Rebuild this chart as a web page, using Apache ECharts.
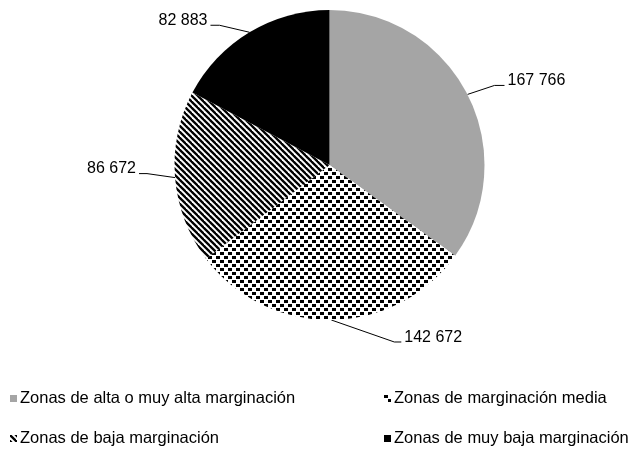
<!DOCTYPE html>
<html>
<head>
<meta charset="utf-8">
<script src="https://cdn.jsdelivr.net/npm/echarts@6/dist/echarts.min.js"></script>
<style>
  html, body { margin: 0; padding: 0; background: #fff; }
  #main { width: 631px; height: 450px; }
</style>
</head>
<body>
<div id="main"></div>
<script>
// datos del grafico
var zoneNames = [
    'Zonas de alta o muy alta marginación',
    'Zonas de marginación media',
    'Zonas de baja marginación',
    'Zonas de muy baja marginación'
];
var zoneValues = [167766, 142672, 86672, 82883];

// doblez de cada linea de etiqueta: [dx, dy, tramo horizontal, ajuste y del texto]
var labelBends = [
    [27, -9, 10, -5],
    [63, 22, 7, -4],
    [-28, -4, -8, -5],
    [-30, -7, -9, -5]
];

// posicion de cada leyenda
var legendPos = [
    {left: 10, top: 390},
    {left: 384, top: 390},
    {left: 10, top: 430},
    {left: 384, top: 430}
];

var _font = '"Liberation Sans", Arial, sans-serif';

//trama de puntos
function dotPattern(){
    var c = document.createElement('canvas');
    c.width = 8; c.height = 8;
    var g = c.getContext('2d');
    g.fillStyle = '#fff';
    g.fillRect(0, 0, 8, 8);
    g.fillStyle = '#000';
    g.fillRect(0, 0, 4, 3);
    g.fillRect(4, 4, 4, 3);
    return c;
}

//trama de rayas diagonales
function stripePattern(){
    var c = document.createElement('canvas');
    c.width = 6; c.height = 6;
    var g = c.getContext('2d');
    g.fillStyle = '#fff';
    g.fillRect(0, 0, 6, 6);
    g.strokeStyle = '#000';
    g.lineWidth = 2.3;
    for(var k = -1; k <= 1; k++){
        g.beginPath();
        g.moveTo(k*6 - 2, -2);
        g.lineTo(k*6 + 8, 8);
        g.stroke();
    }
    return c;
}

var sliceColors = [
    '#a5a5a5',
    {image: dotPattern(), repeat: 'repeat'},
    {image: stripePattern(), repeat: 'repeat'},
    '#000000'
];

function fmtNum(v){
    return String(v).replace(/\B(?=(\d{3})+(?!\d))/g, ' ');
}

var pieData = [];
for(var i = 0; i < zoneNames.length; i++){
    pieData.push({
        name: zoneNames[i],
        value: zoneValues[i],
        itemStyle: {color: sliceColors[i]}
    });
}

var legendArr = [];
for(var j = 0; j < zoneNames.length; j++){
    legendArr.push({
        data: [zoneNames[j]],
        left: legendPos[j].left,
        top: legendPos[j].top,
        orient: 'horizontal',
        icon: 'rect',
        itemWidth: 7,
        itemHeight: 7,
        selectedMode: false,
        padding: 0,
        textStyle: {
            color: '#000',
            fontFamily: _font,
            fontSize: 16.5,
            padding: [0, 0, 0, -2]
        }
    });
}

var myChart = echarts.init(document.getElementById('main'), null, {renderer: 'canvas'});

var option = {
    animation: false,
    backgroundColor: '#fff',
    legend: legendArr,
    series: [
        {
            type: 'pie',
            center: [329.5, 165],
            radius: 155,
            startAngle: 90,
            clockwise: true,
            avoidLabelOverlap: false,
            data: pieData,
            itemStyle: {borderWidth: 0},
            emphasis: {scale: false},
            label: {
                show: true,
                position: 'outside',
                color: '#000',
                fontFamily: _font,
                fontSize: 16,
                formatter: function(p){ return fmtNum(p.value); }
            },
            labelLine: {
                show: true,
                length: 25,
                length2: 10,
                lineStyle: {color: '#000', width: 1}
            },
            labelLayout: function(params){
                var pts = params.labelLinePoints;
                if(!pts) return {};
                var b = labelBends[params.dataIndex];
                var s = pts[0];
                var e = [s[0] + b[0], s[1] + b[1]];
                var f = [e[0] + b[2], e[1]];
                var toRight = b[2] > 0;
                return {
                    x: f[0] + (toRight ? 3 : -3),
                    y: f[1] + b[3],
                    align: toRight ? 'left' : 'right',
                    verticalAlign: 'middle',
                    labelLinePoints: [s, e, f]
                };
            }
        }
    ]
};

myChart.setOption(option);
</script>
</body>
</html>
